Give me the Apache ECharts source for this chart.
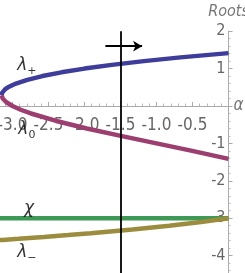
<!DOCTYPE html>
<html><head><meta charset="utf-8">
<script src="https://cdn.jsdelivr.net/npm/echarts@6/dist/echarts.min.js"></script>
<style>html,body{margin:0;padding:0;background:#fff}#c{width:245px;height:273px}</style>
</head><body><div id="c"></div>
<script>
// [alpha, root] pairs
const lambdaPlus = [[-3.152,0.29],[-3.149,0.33],[-3.145,0.35],[-3.128,0.40],[-3.101,0.45],[-3.063,0.50],[-2.952,0.60],[-2.794,0.70],[-2.584,0.80],[-2.321,0.90],[-2.0,1.0],[-1.62,1.10],[-1.176,1.20],[-0.667,1.30],[0,1.414]];
const lambdaZero = [[-3.152,0.29],[-3.148,0.25],[-3.136,0.20],[-3.115,0.15],[-3.085,0.10],[-3.0,0.0],[-2.886,-0.1],[-2.744,-0.2],[-2.392,-0.4],[-1.968,-0.6],[-1.496,-0.8],[-1.0,-1.0],[-0.504,-1.2],[0,-1.414]];
const lambdaMinus = [[-3.288,-3.6],[-3.137,-3.58],[-2.916,-3.55],[-2.563,-3.5],[-2.228,-3.45],[-1.912,-3.4],[-1.334,-3.3],[-0.824,-3.2],[-0.381,-3.1],[0,-3.0]];
const chi = [[-3.5,-3],[0,-3]];
const markerAlpha = -1.5;
const arrowFrom = [-1.71, 1.6];
const arrowTo = [-1.2, 1.6];
const curveLabels = [[-2.80,1.07,'{l|λ}{s|+}'],[-2.80,-0.64,'{l|λ}{s|0}'],[-2.77,-2.73,'{l|χ}'],[-2.80,-3.93,'{l|λ}{s|−}']];

const FONT = "'Liberation Sans Narrow','DejaVu Sans Condensed',sans-serif";
const Y_MIN = -5, Y_MAX = 2, GRID_TOP = 31.2, GRID_BOTTOM = -20, H = 273;
// x axis drawn on the line root = 0: shift it up from the grid bottom
const plotH = H - GRID_TOP - GRID_BOTTOM;
const zeroOffset = -plotH * (0 - Y_MIN) / (Y_MAX - Y_MIN);

const chart = echarts.init(document.getElementById('c'), null, {renderer:'canvas'});
chart.setOption({
  animation:false,
  grid:{left:-23.5, right:16.5, top:GRID_TOP, bottom:GRID_BOTTOM, outerBoundsMode:'none', containLabel:false},
  xAxis:{type:'value', min:-3.5, max:0, interval:0.5, position:'bottom', offset:zeroOffset,
    axisLine:{onZero:false, lineStyle:{color:'#aaa', width:1}},
    axisTick:{show:true, inside:true, length:4, lineStyle:{color:'#aaa'}},
    minorTick:{show:true, splitNumber:5, length:2.5, lineStyle:{color:'#bbb'}},
    splitLine:{show:false},
    axisLabel:{margin:11, color:'#666', fontSize:17, fontFamily:FONT,
      formatter:v=> (Math.abs(v)<1e-9 || v<=-3.49) ? '' : v.toFixed(1)},
    name:'α', nameLocation:'end', nameGap:5,
    nameTextStyle:{color:'#777', fontSize:17, fontStyle:'italic', fontFamily:FONT}},
  yAxis:{type:'value', min:Y_MIN, max:Y_MAX, interval:1, position:'right',
    axisLine:{show:true, onZero:false, lineStyle:{color:'#aaa', width:1}},
    axisTick:{show:true, inside:false, length:4, lineStyle:{color:'#aaa'}},
    minorTick:{show:true, splitNumber:5, length:2, lineStyle:{color:'#bbb'}},
    splitLine:{show:false},
    axisLabel:{inside:true, margin:3, color:'#666', fontSize:16, fontFamily:FONT,
      formatter:v=> v===0 ? '' : String(v)},
    name:'Roots', nameLocation:'end', nameGap:11,
    nameTextStyle:{color:'#777', fontSize:16, fontStyle:'italic', fontFamily:FONT}},
  series:[
    {type:'line', data:chi, showSymbol:false, lineStyle:{color:'#3d9955', width:4.5}, itemStyle:{color:'#3d9955'}, z:3,
     markLine:{silent:true, symbol:'none', label:{show:false}, z:10,
       lineStyle:{color:'#000', width:1.8, type:'solid'},
       data:[
         {xAxis:markerAlpha},
         [{coord:arrowFrom, symbol:'none'},{coord:arrowTo, symbol:'arrow', symbolSize:[8,9]}]
       ]}},
    {type:'line', data:lambdaMinus, showSymbol:false, lineStyle:{color:'#9c8c3e', width:4.5}, z:3},
    {type:'line', data:lambdaPlus, showSymbol:false, lineStyle:{color:'#3e3d9c', width:4.5}, z:3},
    {type:'line', data:lambdaZero, showSymbol:false, lineStyle:{color:'#9c3e70', width:4.5}, z:3},
    {type:'scatter', symbolSize:0, z:5, silent:true,
     data:curveLabels.map(d=>({value:[d[0],d[1]], text:d[2]})),
     label:{show:true, position:'inside', formatter:p=>p.data.text, color:'#000',
       rich:{l:{fontSize:17, fontStyle:'italic', fontFamily:'DejaVu Sans', color:'#000', lineHeight:22},
             s:{fontSize:11, fontFamily:'DejaVu Sans', color:'#000', padding:[10,0,0,0], lineHeight:22}}}}
  ]
});
</script></body></html>
